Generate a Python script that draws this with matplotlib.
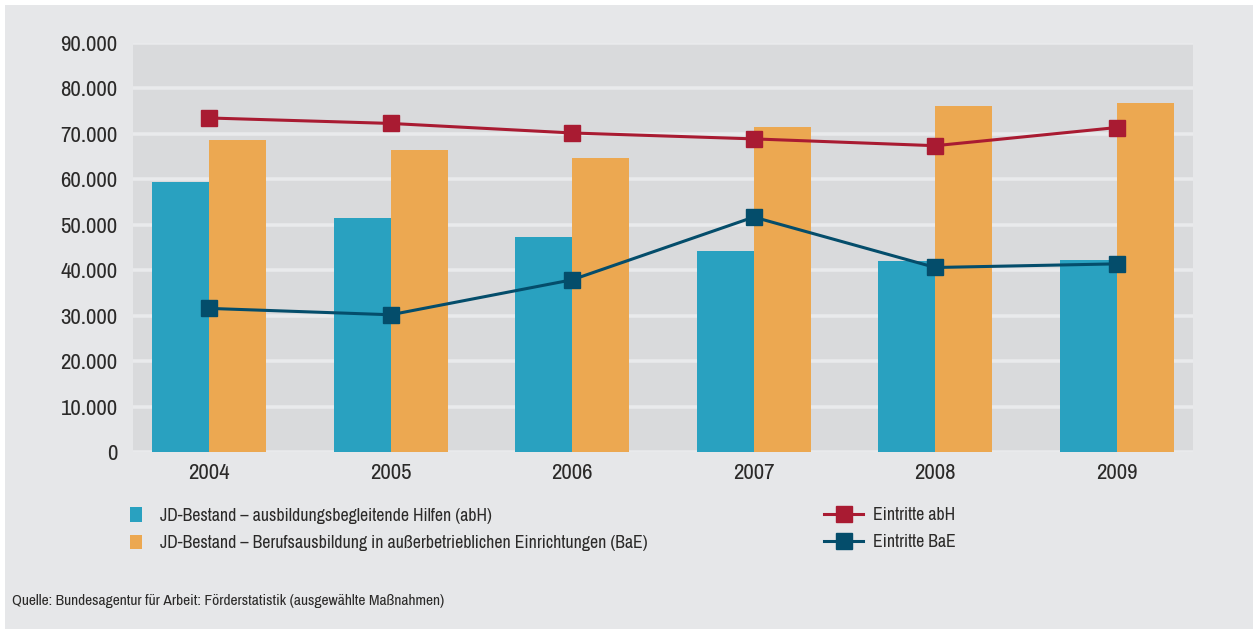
import matplotlib
matplotlib.use("Agg")
import matplotlib.pyplot as plt
from matplotlib import font_manager
from matplotlib.ticker import FuncFormatter, MultipleLocator
from matplotlib.patches import Rectangle
import numpy as np

years = ["2004", "2005", "2006", "2007", "2008", "2009"]
bestand_abh = [59400, 51500, 47300, 44200, 42000, 42300]
bestand_bae = [68700, 66500, 64700, 71500, 76100, 76800]
eintritte_abh = [73500, 72300, 70200, 68900, 67400, 71400]
eintritte_bae = [31600, 30200, 37900, 51700, 40600, 41400]

C_BG = "#e6e7e9"
C_PLOT = "#d9dadc"
C_ABH = "#29a1c0"
C_BAE = "#eca851"
C_RED = "#a91b32"
C_DARK = "#044d6b"
C_TEXT = "#2b2a29"

# condensed font if there is one, else Liberation Sans
names = sorted({f.name for f in font_manager.fontManager.ttflist})
narrow = [n for n in names if "Condensed" in n or "Narrow" in n]
plt.rcParams["font.family"] = narrow[:1] + ["Liberation Sans", "DejaVu Sans"]
cond = bool(narrow)

W, H = 1253, 629
fig = plt.figure(figsize=(W / 100, H / 100), dpi=100)
fig.patch.set_facecolor("white")
fig.patches.append(Rectangle((5 / W, 0), 1 - 5 / W, 1 - 5 / H,
                             transform=fig.transFigure, facecolor=C_BG,
                             edgecolor="none", zorder=-10))

ax = fig.add_axes([133 / W, 1 - 452 / H, 1060 / W, 409 / H])
ax.set_facecolor(C_PLOT)

x = np.arange(len(years))
w = 0.314
b1 = ax.bar(x - w / 2, bestand_abh, w, color=C_ABH, zorder=3)
b2 = ax.bar(x + w / 2, bestand_bae, w, color=C_BAE, zorder=3)
l1, = ax.plot(x, eintritte_abh, color=C_RED, lw=2.2, marker="s", ms=11.5, zorder=4)
l2, = ax.plot(x, eintritte_bae, color=C_DARK, lw=2.2, marker="s", ms=11.5, zorder=4)

ax.set_xlim(-0.42, 5.42)
ax.set_ylim(0, 90000)
ax.yaxis.set_major_locator(MultipleLocator(10000))
ax.yaxis.set_major_formatter(FuncFormatter(lambda v, p: f"{v:,.0f}".replace(",", ".")))
ax.set_xticks(x)
ax.set_xticklabels(years)
ax.grid(axis="y", color="#e9eaec", lw=2.6, zorder=1)
ax.set_axisbelow(True)
for gl in ax.yaxis.get_gridlines()[:1] + ax.yaxis.get_gridlines()[-1:]:
    gl.set_visible(False)
for s in ax.spines.values():
    s.set_visible(False)
tick_fs = 16.5 if cond else 13
leg_fs = 12.8 if cond else 10.5
ax.tick_params(length=0, labelsize=tick_fs, colors=C_TEXT, pad=8)
ax.tick_params(axis="y", pad=11)

leg1 = fig.legend([b1, b2],
                  ["JD-Bestand – ausbildungsbegleitende Hilfen (abH)",
                   "JD-Bestand – Berufsausbildung in außerbetrieblichen Einrichtungen (BaE)"],
                  loc="upper left", bbox_to_anchor=(130 / W, 1 - 507 / H),
                  borderpad=0, borderaxespad=0,
                  frameon=False, fontsize=leg_fs, handlelength=0.68, handleheight=0.9,
                  handletextpad=1.0, labelspacing=0.62, labelcolor=C_TEXT)
leg2 = fig.legend([l1, l2], ["Eintritte abH", "Eintritte BaE"],
                  loc="upper left", bbox_to_anchor=(824 / W, 1 - 507 / H),
                  borderpad=0, borderaxespad=0,
                  frameon=False, fontsize=leg_fs, handlelength=2.2,
                  handletextpad=0.55, labelspacing=0.62, labelcolor=C_TEXT)

fig.text(12 / W, 1 - 601 / H,
         "Quelle: Bundesagentur für Arbeit: Förderstatistik (ausgewählte Maßnahmen)",
         fontsize=11.2 if cond else 10.5, color=C_TEXT, va="center", ha="left")

fig.savefig("out.png", dpi=100, facecolor=fig.get_facecolor())
